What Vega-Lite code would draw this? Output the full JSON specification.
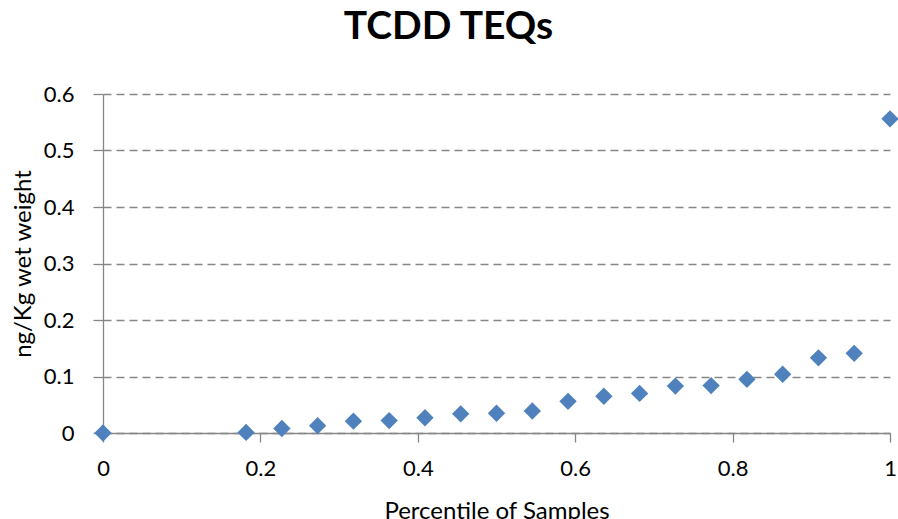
{
  "$schema": "https://vega.github.io/schema/vega-lite/v6.json",
  "autosize": "none",
  "width": 787,
  "height": 339,
  "padding": {"left": 103, "top": 94, "right": 8, "bottom": 86},
  "background": "white",
  "title": {
    "text": "TCDD TEQs",
    "font": "Lato",
    "fontSize": 39,
    "fontWeight": "bold",
    "color": "#000000",
    "anchor": "middle",
    "dx": -48,
    "offset": 36
  },
  "config": {
    "view": {"stroke": null},
    "axis": {
      "labelFont": "Lato",
      "titleFont": "Lato",
      "labelColor": "#000000",
      "titleColor": "#000000",
      "labelFontSize": 22,
      "titleFontSize": 24,
      "titleFontWeight": "normal",
      "domainColor": "#868686",
      "tickColor": "#868686",
      "domainWidth": 1.3,
      "tickWidth": 1.3
    }
  },
  "data": {
    "values": [
      {"p": 0, "v": 0},
      {"p": 0.1818, "v": 0.001},
      {"p": 0.2273, "v": 0.008},
      {"p": 0.2727, "v": 0.013},
      {"p": 0.3182, "v": 0.021},
      {"p": 0.3636, "v": 0.022},
      {"p": 0.4091, "v": 0.027},
      {"p": 0.4545, "v": 0.034},
      {"p": 0.5, "v": 0.035},
      {"p": 0.5455, "v": 0.039},
      {"p": 0.5909, "v": 0.056},
      {"p": 0.6364, "v": 0.065},
      {"p": 0.6818, "v": 0.070},
      {"p": 0.7273, "v": 0.083},
      {"p": 0.7727, "v": 0.084},
      {"p": 0.8182, "v": 0.095},
      {"p": 0.8636, "v": 0.104},
      {"p": 0.9091, "v": 0.133},
      {"p": 0.9545, "v": 0.141},
      {"p": 1.0, "v": 0.556}
    ]
  },
  "mark": {"type": "point", "shape": "diamond", "filled": true, "size": 300, "color": "#4F81BD", "opacity": 1, "clip": false},
  "encoding": {
    "x": {
      "field": "p",
      "type": "quantitative",
      "scale": {"domain": [0, 1], "nice": false, "zero": false},
      "axis": {
        "title": "Percentile of Samples",
        "values": [0, 0.2, 0.4, 0.6, 0.8, 1],
        "format": "~g",
        "grid": false,
        "tickSize": 9,
        "labelPadding": 16,
        "titlePadding": 20,
        "labelFlush": false
      }
    },
    "y": {
      "field": "v",
      "type": "quantitative",
      "scale": {"domain": [0, 0.6], "nice": false},
      "axis": {
        "title": "ng/Kg wet weight",
        "values": [0, 0.1, 0.2, 0.3, 0.4, 0.5, 0.6],
        "format": "~g",
        "grid": true,
        "gridColor": "#868686",
        "gridDash": [8, 5],
        "gridWidth": 1.3,
        "tickSize": 10,
        "labelPadding": 19,
        "titlePadding": 8,
        "labelFlush": false
      }
    }
  }
}
